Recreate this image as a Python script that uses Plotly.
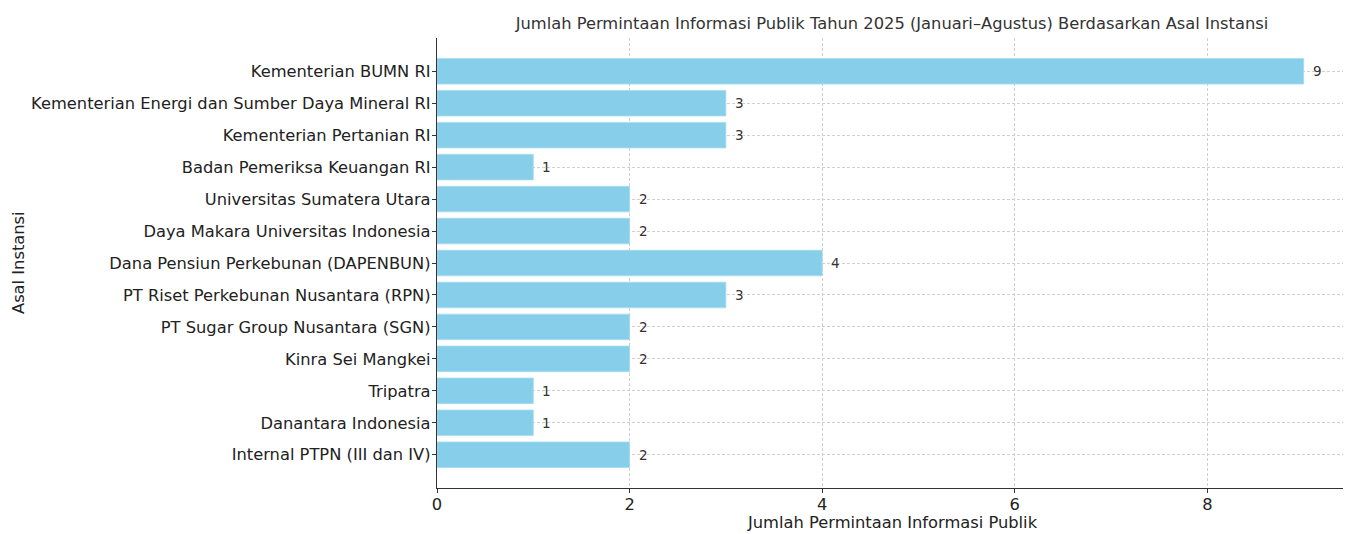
import plotly.graph_objects as go

categories = [
    "Kementerian BUMN RI",
    "Kementerian Energi dan Sumber Daya Mineral RI",
    "Kementerian Pertanian RI",
    "Badan Pemeriksa Keuangan RI",
    "Universitas Sumatera Utara",
    "Daya Makara Universitas Indonesia",
    "Dana Pensiun Perkebunan (DAPENBUN)",
    "PT Riset Perkebunan Nusantara (RPN)",
    "PT Sugar Group Nusantara (SGN)",
    "Kinra Sei Mangkei",
    "Tripatra",
    "Danantara Indonesia",
    "Internal PTPN (III dan IV)",
]
values = [9, 3, 3, 1, 2, 2, 4, 3, 2, 2, 1, 1, 2]
x_ticks = [0, 2, 4, 6, 8]

title = "Jumlah Permintaan Informasi Publik Tahun 2025 (Januari–Agustus) Berdasarkan Asal Instansi"
x_title = "Jumlah Permintaan Informasi Publik"
y_title = "Asal Instansi"

FONT = "DejaVu Sans"
OFF = 8  # page body margin
W, H = 1351 - OFF, 534 - OFF
L, R, T, B = 437 - OFF, 4, 38 - OFF, H - (488 - OFF)

fig = go.Figure()
fig.add_trace(go.Bar(
    x=values, y=categories, orientation="h",
    marker=dict(color="#87CEEB", line=dict(color="#a6dcf0", width=0.8)),
    width=0.8, showlegend=False, hoverinfo="x+y",
))

n = len(categories)
for c, v in zip(categories, values):
    fig.add_annotation(x=v, y=c, text=str(v), showarrow=False, xanchor="left",
                       xshift=7, font=dict(family=FONT, size=13.5, color="#333333"))

ph = H - T - B
pw = W - L - R
fig.add_annotation(text=x_title, xref="paper", yref="paper", x=0.5,
                   y=-((522 - OFF) - (H - B)) / ph,
                   xanchor="center", yanchor="middle", showarrow=False,
                   font=dict(family=FONT, size=16.3, color="#222222"))
fig.add_annotation(text=y_title, xref="paper", yref="paper", x=-(L - (18 - OFF)) / pw, y=0.5,
                   xanchor="center", yanchor="middle", showarrow=False, textangle=-90,
                   font=dict(family=FONT, size=16.3, color="#222222"))

fig.update_layout(
    width=W, height=H,
    margin=dict(l=L, r=R, t=T, b=B, autoexpand=False),
    paper_bgcolor="white", plot_bgcolor="white",
    title=dict(text=title, x=(L + W - R) / 2 / W, xanchor="center", y=1 - (23 - OFF) / H, yanchor="middle",
               font=dict(family=FONT, size=16.3, color="#333333")),
    font=dict(family=FONT, size=16.3, color="#222222"),
    bargap=0.2,
)
fig.update_xaxes(
    range=[0, 9.45], tickvals=x_ticks, ticks="outside", ticklen=4, tickcolor="#333333",
    showline=True, linecolor="#333333", linewidth=1.3, automargin=False,
    showgrid=True, gridcolor="#cfcfcf", griddash="3px,2px", gridwidth=0.8,
    zeroline=False, tickfont=dict(family=FONT, size=16.3, color="#222222"),
    ticklabelstandoff=-3,
)
fig.update_yaxes(
    type="category", categoryorder="array", categoryarray=categories,
    range=[n - 1 + 1.04, -1.04], ticks="outside", ticklen=4, tickcolor="#333333",
    showline=True, linecolor="#333333", linewidth=1.3, automargin=False,
    showgrid=True, gridcolor="#cfcfcf", griddash="3px,2px", gridwidth=0.8,
    tickfont=dict(family=FONT, size=16.3, color="#222222"),
    ticklabelstandoff=-2,
)

fig.write_html("out.html")
